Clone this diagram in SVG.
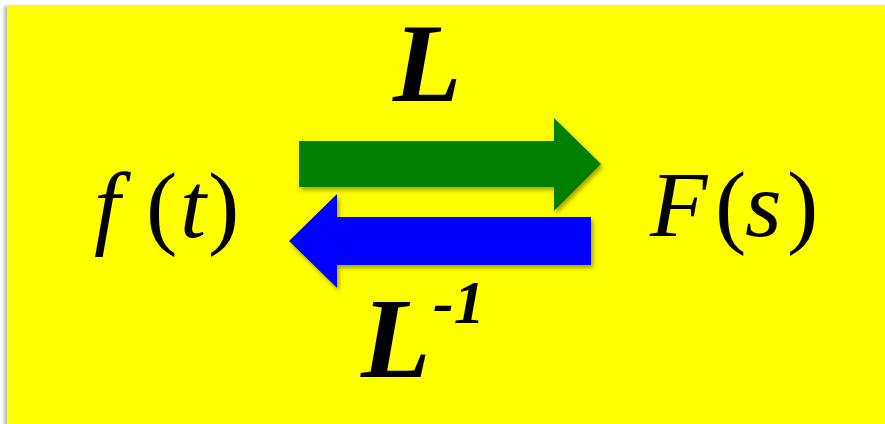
<svg xmlns="http://www.w3.org/2000/svg" width="885" height="424" viewBox="0 0 885 424">
<style>
.math{font-family:"Liberation Serif","Times New Roman",serif;fill:#000}
.it{font-style:italic}
.lbl{font-family:"Liberation Serif","Times New Roman",serif;font-weight:bold;font-style:italic;fill:#000}
</style>
<defs>
<filter id="sh" x="-10%" y="-20%" width="120%" height="150%">
<feDropShadow dx="2" dy="3" stdDeviation="2" flood-color="#6b6b00" flood-opacity="0.6"/>
</filter>
<filter id="bgsh" x="-5%" y="-5%" width="110%" height="110%">
<feGaussianBlur stdDeviation="1.5"/>
</filter>
</defs>
<rect x="0" y="0" width="885" height="424" fill="#fff"/>
<rect x="4" y="6" width="890" height="430" fill="#bbb" filter="url(#bgsh)"/>
<rect x="7" y="5" width="878" height="419" fill="#ffff00"/>
<g id="f-t">
<text class="math" y="237" font-size="94"><tspan class="it" x="94">f</tspan><tspan x="146">(</tspan><tspan class="it" x="180">t</tspan><tspan x="208">)</tspan></text>
</g>
<g id="F-s">
<text class="math" y="236" font-size="94"><tspan class="it" x="650">F</tspan><tspan x="715">(</tspan><tspan class="it" x="745">s</tspan><tspan x="787">)</tspan></text>
</g>
<g id="connectors">
<g id="laplace">
<path d="M299 141 H554 V118 L601 164 L554 211 V187 H299 Z" fill="#008000" filter="url(#sh)"/>
<text class="lbl" x="393" y="101" font-size="112">L</text>
</g>
<g id="inverse">
<path d="M591 217 H337 V194 L289 241 L337 288 V265 H591 Z" fill="#0000ff" filter="url(#sh)"/>
<text class="lbl" y="377" font-size="114"><tspan x="361">L</tspan><tspan x="433" y="323" font-size="62">-1</tspan></text>
</g>
</g>
</svg>
